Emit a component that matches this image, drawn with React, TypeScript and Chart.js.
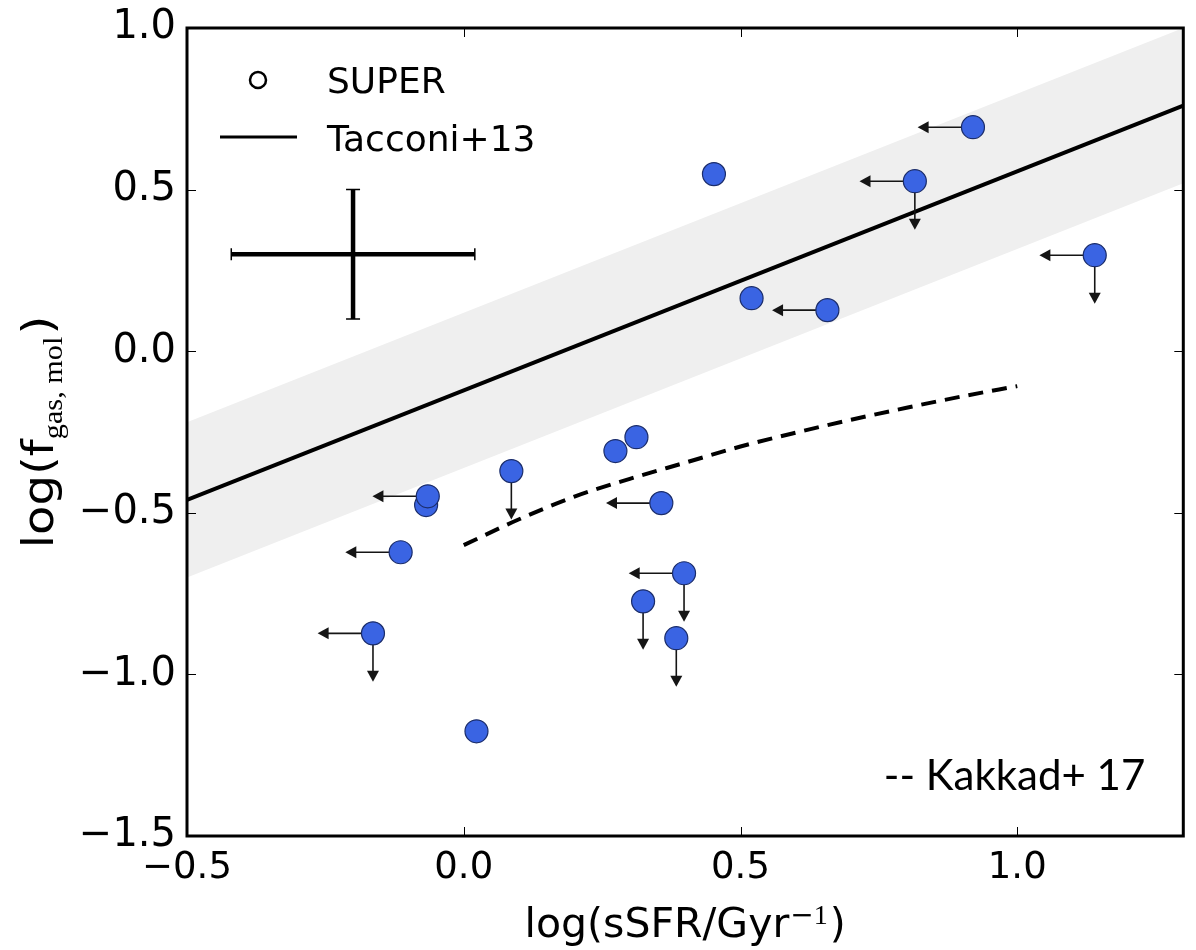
import React, { useEffect, useRef } from 'react';
import { Chart, registerables } from 'chart.js';

Chart.register(...registerables);

// SUPER sample: log(sSFR/Gyr^-1) and log(f_gas,mol)
const ssfr = [0.92, 0.815, 0.452, 1.14, 0.52, 0.657, 0.312, 0.274, 0.086, 0.357, -0.068, -0.065, -0.114, 0.398, 0.324, 0.384, -0.164, 0.023];
const fgas = [0.693, 0.526, 0.548, 0.297, 0.164, 0.127, -0.266, -0.309, -0.371, -0.47, -0.476, -0.449, -0.622, -0.687, -0.774, -0.888, -0.873, -1.176];
// 1 = upper limit (arrow) on that axis
const xUpper = [1, 1, 0, 1, 0, 1, 0, 0, 0, 1, 0, 1, 1, 1, 0, 0, 1, 0];
const yUpper = [0, 1, 0, 1, 0, 0, 0, 0, 1, 0, 0, 0, 0, 1, 1, 1, 1, 0];

// Tacconi+13 relation and its scatter band
const tacconiX = [-0.5, 1.3];
const tacconiY = [-0.46, 0.76];
const bandUpperY = [-0.22, 1.0];
const bandLowerY = [-0.7, 0.52];

// Kakkad+17 curve
const kakkadX = [0.0, 0.1, 0.2, 0.3, 0.4, 0.5, 0.6, 0.7, 0.8, 0.9, 1.0];
const kakkadY = [-0.6, -0.52, -0.45, -0.395, -0.345, -0.295, -0.252, -0.212, -0.175, -0.14, -0.108];

// typical error bar
const errCenterX = -0.2;
const errCenterY = 0.3;
const errX = 0.22;
const errY = 0.2;

const xTicks = [-0.5, 0.0, 0.5, 1.0];
const yTicks = [-1.5, -1.0, -0.5, 0.0, 0.5, 1.0];

const arrowDx = 0.1;
const arrowDy = 0.15;

const fmt = (v: number) => (v < -1e-9 ? '\u2212' : '') + Math.abs(v).toFixed(1);

const customPlugin = {
  id: 'custom',
  afterDatasetDraw(chart: any, args: any) {
    if (args.index !== 1) return;
    const ctx = chart.ctx;
    const xs = chart.scales.x;
    const ys = chart.scales.y;
    ctx.save();
    ctx.strokeStyle = '#151515';
    ctx.fillStyle = '#151515';
    ctx.lineWidth = 1.6;
    ssfr.forEach((xv, i) => {
      const px = xs.getPixelForValue(xv);
      const py = ys.getPixelForValue(fgas[i]);
      if (xUpper[i]) {
        const ex = xs.getPixelForValue(xv - arrowDx);
        ctx.beginPath();
        ctx.moveTo(px, py);
        ctx.lineTo(ex + 8, py);
        ctx.stroke();
        ctx.beginPath();
        ctx.moveTo(ex, py);
        ctx.lineTo(ex + 11, py - 6);
        ctx.lineTo(ex + 11, py + 6);
        ctx.closePath();
        ctx.fill();
      }
      if (yUpper[i]) {
        const ey = ys.getPixelForValue(fgas[i] - arrowDy);
        ctx.beginPath();
        ctx.moveTo(px, py);
        ctx.lineTo(px, ey - 8);
        ctx.stroke();
        ctx.beginPath();
        ctx.moveTo(px, ey);
        ctx.lineTo(px - 6, ey - 11);
        ctx.lineTo(px + 6, ey - 11);
        ctx.closePath();
        ctx.fill();
      }
    });
    ctx.restore();
  },
  afterDraw(chart: any) {
    const ctx = chart.ctx;
    const xs = chart.scales.x;
    const ys = chart.scales.y;
    const a = chart.chartArea;
    ctx.save();

    // inward tick marks
    ctx.strokeStyle = '#000';
    ctx.lineWidth = 1;
    xTicks.forEach((v) => {
      const p = Math.round(xs.getPixelForValue(v)) + 0.5;
      ctx.beginPath();
      ctx.moveTo(p, a.bottom);
      ctx.lineTo(p, a.bottom - 9);
      ctx.moveTo(p, a.top);
      ctx.lineTo(p, a.top + 9);
      ctx.stroke();
    });
    yTicks.forEach((v) => {
      const p = Math.round(ys.getPixelForValue(v)) + 0.5;
      ctx.beginPath();
      ctx.moveTo(a.left, p);
      ctx.lineTo(a.left + 9, p);
      ctx.moveTo(a.right, p);
      ctx.lineTo(a.right - 9, p);
      ctx.stroke();
    });

    // frame
    ctx.lineWidth = 3;
    ctx.strokeRect(a.left, a.top, a.right - a.left, a.bottom - a.top);

    // typical error cross
    const cx = xs.getPixelForValue(errCenterX);
    const cy = ys.getPixelForValue(errCenterY);
    const x0 = xs.getPixelForValue(errCenterX - errX);
    const x1 = xs.getPixelForValue(errCenterX + errX);
    const y0 = ys.getPixelForValue(errCenterY + errY);
    const y1 = ys.getPixelForValue(errCenterY - errY);
    ctx.lineWidth = 4.5;
    ctx.beginPath();
    ctx.moveTo(x0, cy);
    ctx.lineTo(x1, cy);
    ctx.moveTo(cx, y0);
    ctx.lineTo(cx, y1);
    ctx.stroke();
    ctx.lineWidth = 1.5;
    ctx.beginPath();
    ctx.moveTo(x0, cy - 6);
    ctx.lineTo(x0, cy + 6);
    ctx.moveTo(x1, cy - 6);
    ctx.lineTo(x1, cy + 6);
    ctx.moveTo(cx - 7, y0);
    ctx.lineTo(cx + 7, y0);
    ctx.moveTo(cx - 7, y1);
    ctx.lineTo(cx + 7, y1);
    ctx.stroke();

    // legend
    ctx.fillStyle = '#000';
    ctx.font = '36px "DejaVu Sans"';
    ctx.textAlign = 'left';
    ctx.textBaseline = 'alphabetic';
    ctx.lineWidth = 2.5;
    ctx.beginPath();
    ctx.arc(a.left + 71, a.top + 52, 8, 0, Math.PI * 2);
    ctx.stroke();
    ctx.fillText('SUPER', a.left + 140, a.top + 65);
    ctx.lineWidth = 3;
    ctx.beginPath();
    ctx.moveTo(a.left + 33, a.top + 109);
    ctx.lineTo(a.left + 110, a.top + 109);
    ctx.stroke();
    ctx.fillText('Tacconi+13', a.left + 140, a.top + 123);

    // Kakkad label
    ctx.font = '42px Lato';
    ctx.textAlign = 'right';
    ctx.fillText('-- Kakkad+ 17', a.right - 38, a.bottom - 46);

    // x title with superscript
    {
      const mainFont = '41px "DejaVu Sans"';
      const supSans = '28px "DejaVu Sans"';
      const supSerif = '28px "Liberation Serif"';
      ctx.textAlign = 'left';
      ctx.font = mainFont;
      const w1 = ctx.measureText('log(sSFR/Gyr').width;
      const w4 = ctx.measureText(')').width;
      ctx.font = supSans;
      const w2 = ctx.measureText('\u2212').width;
      ctx.font = supSerif;
      const w3 = ctx.measureText('1').width;
      const total = w1 + w2 + w3 + 3 + w4;
      let x = (a.left + a.right) / 2 - total / 2;
      const base = 937;
      ctx.font = mainFont;
      ctx.fillText('log(sSFR/Gyr', x, base);
      x += w1 + 1;
      ctx.font = supSans;
      ctx.fillText('\u2212', x, base - 13);
      x += w2;
      ctx.font = supSerif;
      ctx.fillText('1', x, base - 13);
      x += w3 + 2;
      ctx.font = mainFont;
      ctx.fillText(')', x, base);
    }

    // y title with subscript (rotated)
    {
      const mainFont = '43px "DejaVu Sans"';
      const subFont = '27px "Liberation Serif"';
      const sx = 1.12;
      ctx.save();
      ctx.translate(53, (a.top + a.bottom) / 2);
      ctx.rotate(-Math.PI / 2);
      ctx.scale(sx, 1);
      ctx.textAlign = 'left';
      ctx.font = mainFont;
      const w1 = ctx.measureText('log(f').width;
      const w3 = ctx.measureText(')').width;
      ctx.font = subFont;
      const w2 = ctx.measureText('gas, mol').width;
      const total = w1 + w2 + w3 + 2;
      let x = -total / 2;
      ctx.font = mainFont;
      ctx.fillText('log(f', x, 0);
      x += w1;
      ctx.font = subFont;
      ctx.fillText('gas, mol', x, 9);
      x += w2 + 2;
      ctx.font = mainFont;
      ctx.fillText(')', x, 0);
      ctx.restore();
    }

    ctx.restore();
  },
};

export default function App() {
  const ref = useRef<HTMLCanvasElement | null>(null);

  useEffect(() => {
    if (!ref.current) return;
    const points = ssfr.map((x, i) => ({ x, y: fgas[i] }));
    const tacconi = tacconiX.map((x, i) => ({ x, y: tacconiY[i] }));
    const bandUp = tacconiX.map((x, i) => ({ x, y: bandUpperY[i] }));
    const bandLo = tacconiX.map((x, i) => ({ x, y: bandLowerY[i] }));
    const kakkad = kakkadX.map((x, i) => ({ x, y: kakkadY[i] }));

    const chart = new Chart(ref.current, {
      type: 'scatter',
      data: {
        datasets: [
          {
            label: 'SUPER',
            data: points,
            backgroundColor: '#3a64e3',
            borderColor: '#1b2d6b',
            borderWidth: 1.2,
            pointRadius: 11.5,
            order: 0,
          } as any,
          {
            type: 'line',
            label: 'Tacconi+13',
            data: tacconi,
            borderColor: '#000',
            borderWidth: 4,
            pointRadius: 0,
            fill: false,
            order: 1,
          } as any,
          {
            type: 'line',
            label: 'Kakkad+17',
            data: kakkad,
            borderColor: '#000',
            borderWidth: 4,
            borderDash: [15, 9],
            pointRadius: 0,
            cubicInterpolationMode: 'monotone',
            fill: false,
            order: 2,
          } as any,
          {
            type: 'line',
            label: 'band upper',
            data: bandUp,
            borderWidth: 0,
            borderColor: 'rgba(0,0,0,0)',
            pointRadius: 0,
            fill: false,
            order: 4,
          } as any,
          {
            type: 'line',
            label: 'band lower',
            data: bandLo,
            borderWidth: 0,
            borderColor: 'rgba(0,0,0,0)',
            backgroundColor: '#efefef',
            pointRadius: 0,
            fill: '-1',
            order: 3,
          } as any,
        ],
      },
      options: {
        animation: false,
        responsive: false,
        devicePixelRatio: 1,
        layout: { padding: { top: 28, right: 10, left: 0, bottom: 0 } },
        plugins: {
          legend: { display: false },
          tooltip: { enabled: false },
        },
        scales: {
          x: {
            type: 'linear',
            min: -0.5,
            max: 1.3,
            afterBuildTicks: (s: any) => {
              s.ticks = xTicks.map((v) => ({ value: v }));
            },
            afterFit: (s: any) => {
              s.height = 114;
              s.paddingLeft = 0;
              s.paddingRight = 0;
              s.paddingTop = 0;
              s.paddingBottom = 0;
            },
            grid: { display: false, drawTicks: false },
            border: { display: false },
            ticks: {
              font: { family: 'DejaVu Sans', size: 37 },
              color: '#000',
              padding: 10,
              maxRotation: 0,
              autoSkip: false,
              callback: (v: any) => fmt(Number(v)),
            },
          },
          y: {
            type: 'linear',
            min: -1.5,
            max: 1.0,
            afterBuildTicks: (s: any) => {
              s.ticks = yTicks.map((v) => ({ value: v }));
            },
            afterFit: (s: any) => {
              s.width = 187;
              s.paddingLeft = 0;
              s.paddingRight = 0;
              s.paddingTop = 0;
              s.paddingBottom = 0;
            },
            grid: { display: false, drawTicks: false },
            border: { display: false },
            ticks: {
              font: { family: 'DejaVu Sans', size: 40 },
              color: '#000',
              padding: 11,
              autoSkip: false,
              callback: (v: any) => fmt(Number(v)),
            },
          },
        },
      } as any,
      plugins: [customPlugin as any],
    });
    return () => chart.destroy();
  }, []);

  return (
    <div style={{ position: 'fixed', left: 0, top: 0, width: 1196, height: 950, background: '#fff' }}>
      <canvas ref={ref} width={1196} height={950} style={{ display: 'block' }} />
    </div>
  );
}
